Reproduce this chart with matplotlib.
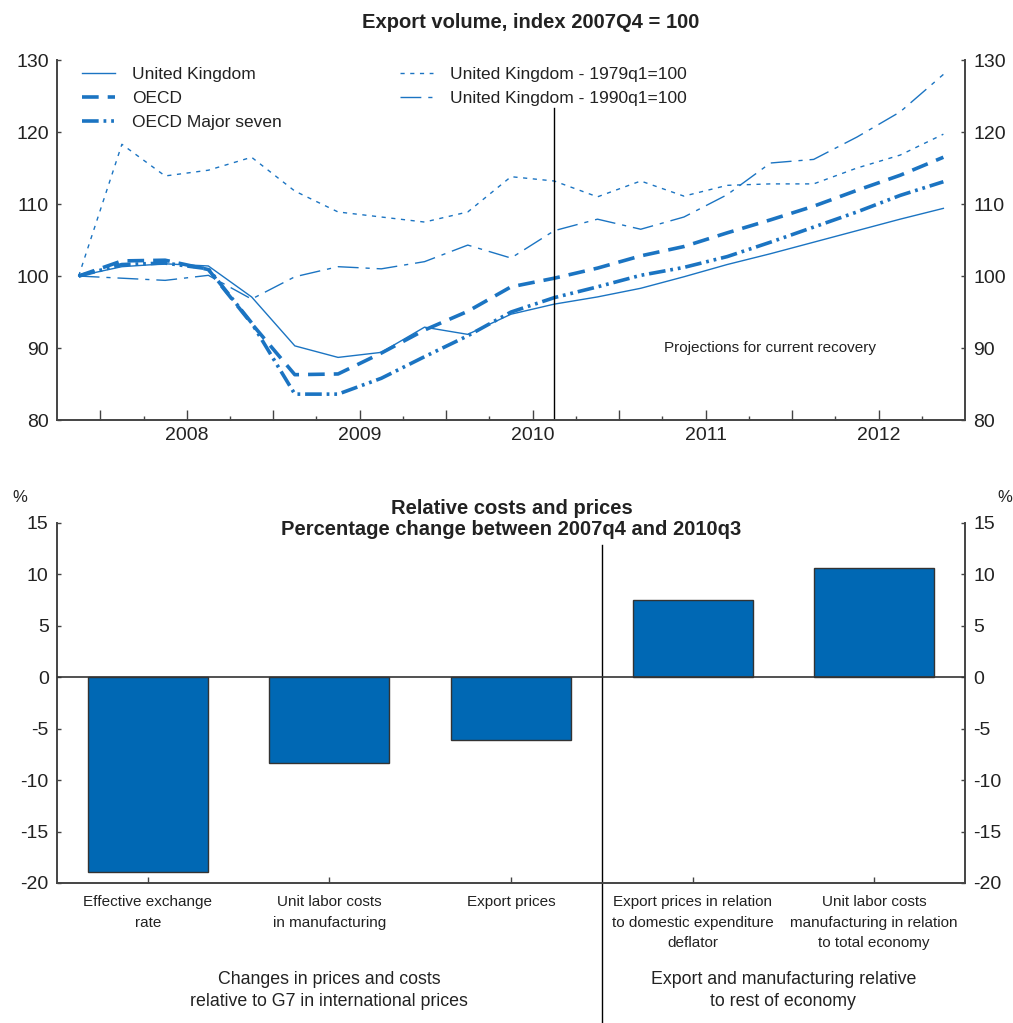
import numpy as np
import matplotlib
matplotlib.use('Agg')
import matplotlib.pyplot as plt
from matplotlib.transforms import blended_transform_factory

plt.rcParams['font.family'] = ['Liberation Sans', 'DejaVu Sans']
plt.rcParams['lines.scale_dashes'] = False
plt.rcParams['axes.unicode_minus'] = False
plt.rcParams['text.color'] = '#222222'
plt.rcParams['axes.edgecolor'] = '#444444'
plt.rcParams['xtick.color'] = '#444444'
plt.rcParams['ytick.color'] = '#444444'
plt.rcParams['xtick.labelcolor'] = '#222222'
plt.rcParams['ytick.labelcolor'] = '#222222'

# Export volumes, 2007Q4 .. 2012Q4 (index 2007Q4 = 100)
quarters = np.arange(21)
uk = [100, 101.3, 101.7, 101.4, 97.1, 90.3, 88.7, 89.4, 92.9, 91.9, 94.7,
      96.1, 97.1, 98.3, 99.9, 101.6, 103.1, 104.7, 106.3, 107.9, 109.4]
oecd = [100, 102.1, 102.2, 100.9, 93.4, 86.3, 86.4, 89.3, 92.5, 95.1, 98.5,
        99.7, 101.1, 102.8, 104.1, 106.0, 107.8, 109.7, 111.9, 114.0, 116.5]
g7 = [100, 101.6, 101.8, 101.0, 93.5, 83.6, 83.6, 85.8, 88.8, 91.7, 95.0,
      97.0, 98.5, 100.1, 101.2, 102.7, 104.7, 106.8, 108.9, 111.2, 113.1]
uk_1979 = [100, 118.3, 113.9, 114.7, 116.5, 111.8, 108.9, 108.2, 107.5, 108.9, 113.8,
           113.2, 111.0, 113.2, 111.1, 112.6, 112.8, 112.8, 115.0, 116.8, 119.7]
uk_1990 = [100, 99.7, 99.4, 100.1, 96.8, 99.9, 101.3, 101.0, 102.0, 104.3, 102.5,
           106.3, 107.9, 106.5, 108.2, 111.3, 115.7, 116.2, 119.3, 122.8, 128.0]
years = ['2008', '2009', '2010', '2011', '2012']
proj_start = 11  # 2010Q3

# Relative costs and prices, % change 2007q4 - 2010q3
bar_labels = ['Effective exchange\nrate', 'Unit labor costs\nin manufacturing', 'Export prices',
              'Export prices in relation\nto domestic expenditure\ndeflator',
              'Unit labor costs\nmanufacturing in relation\nto total economy']
bar_values = [-18.9, -8.3, -6.1, 7.5, 10.6]

blue = '#1b74c2'
bar_blue = '#0068b4'

fig = plt.figure(figsize=(10.13, 10.23), dpi=100)

# ---- top panel ----
ax1 = fig.add_axes([0.0563, 0.5894, 0.8963, 0.3519])
ax1.plot(quarters, uk, color=blue, lw=1.0, label='United Kingdom')
ax1.plot(quarters, oecd, color=blue, lw=2.6, linestyle=(0, (12, 6.5)), label='OECD')
ax1.plot(quarters, g7, color=blue, lw=2.6, linestyle=(0, (12, 3.5, 2, 3.5, 2, 3.5)),
         label='OECD Major seven')
ax1.plot(quarters, uk_1979, color=blue, lw=1.0, linestyle=(0, (3, 4)),
         label='United Kingdom - 1979q1=100')
ax1.plot(quarters, uk_1990, color=blue, lw=1.0, linestyle=(0, (15, 5, 3, 5)),
         label='United Kingdom - 1990q1=100')

ax1.plot([proj_start, proj_start], [80, 123.4], color='black', lw=1.0)
ax1.text(16.0, 90, 'Projections for current recovery', fontsize=11, ha='center', va='center')

ax1.set_xlim(-0.5, 20.5)
ax1.set_ylim(80, 130)
ax1.set_yticks(np.arange(80, 131, 10))
major = np.arange(0.5, 20, 2)
ax1.set_xticks(major)
ax1.set_xticklabels(['' if (m - 2.5) % 4 else years[int((m - 2.5) // 4)] for m in major])
ax1.set_xticks(np.arange(1.5, 20, 2), minor=True)
ax1.tick_params(axis='x', which='major', direction='in', length=7, width=1, labelsize=14, pad=5)
ax1.tick_params(axis='x', which='minor', direction='in', length=3, width=1)
ax1.tick_params(axis='y', direction='in', length=3, width=1, labelsize=14,
                left=True, right=True, labelleft=True, labelright=True, pad=6)
ax1.spines['top'].set_visible(False)
for s in ['left', 'right', 'bottom']:
    ax1.spines[s].set_linewidth(1.4)

h, l = ax1.get_legend_handles_labels()
leg1 = ax1.legend(h[:3], l[:3], loc='upper left', bbox_to_anchor=(0.01, 1.025), frameon=False,
                  fontsize=12.5, handlelength=1.9, handletextpad=1.0, labelspacing=0.52)
ax1.add_artist(leg1)
ax1.legend(h[3:], l[3:], loc='upper left', bbox_to_anchor=(0.36, 1.025), frameon=False,
           fontsize=12.5, handlelength=1.9, handletextpad=1.0, labelspacing=0.52)

fig.text(0.524, 0.978, 'Export volume, index 2007Q4 = 100', ha='center', va='center',
         fontsize=14.5, fontweight='bold')

# ---- bottom panel ----
ax2 = fig.add_axes([0.0563, 0.1369, 0.8963, 0.3519])
pos = np.arange(len(bar_values))
ax2.bar(pos, bar_values, width=0.66, color=bar_blue, edgecolor='#333333', linewidth=1.0, zorder=2)
ax2.axhline(0, color='#333333', lw=1.2, zorder=3)
ax2.plot([2.5, 2.5], [12.9, -33.6], color='black', lw=1.0, clip_on=False)

ax2.set_xlim(-0.5, 4.5)
ax2.set_ylim(-20, 15)
ax2.set_yticks(np.arange(-20, 16, 5))
ax2.set_xticks(pos)
ax2.set_xticklabels(bar_labels, fontsize=11, linespacing=1.55)
ax2.tick_params(axis='x', direction='in', length=4, width=1, pad=9)
ax2.tick_params(axis='y', direction='in', length=3, width=1, labelsize=14,
                left=True, right=True, labelleft=True, labelright=True, pad=6)
ax2.spines['top'].set_visible(False)
for s in ['left', 'right', 'bottom']:
    ax2.spines[s].set_linewidth(1.4)

tr = blended_transform_factory(ax2.transData, fig.transFigure)
ax2.text(1, 0.032, 'Changes in prices and costs\nrelative to G7 in international prices',
         transform=tr, ha='center', va='center', fontsize=12.8, linespacing=1.4)
ax2.text(3.5, 0.032, 'Export and manufacturing relative\nto rest of economy',
         transform=tr, ha='center', va='center', fontsize=12.8, linespacing=1.4)

fig.text(0.505, 0.4927, 'Relative costs and prices\nPercentage change between 2007q4 and 2010q3',
         ha='center', va='center', fontsize=14.5, fontweight='bold', linespacing=1.15)
fig.text(0.02, 0.514, '%', ha='center', va='center', fontsize=12)
fig.text(0.992, 0.514, '%', ha='center', va='center', fontsize=12)

fig.savefig('out.png', dpi=100)
